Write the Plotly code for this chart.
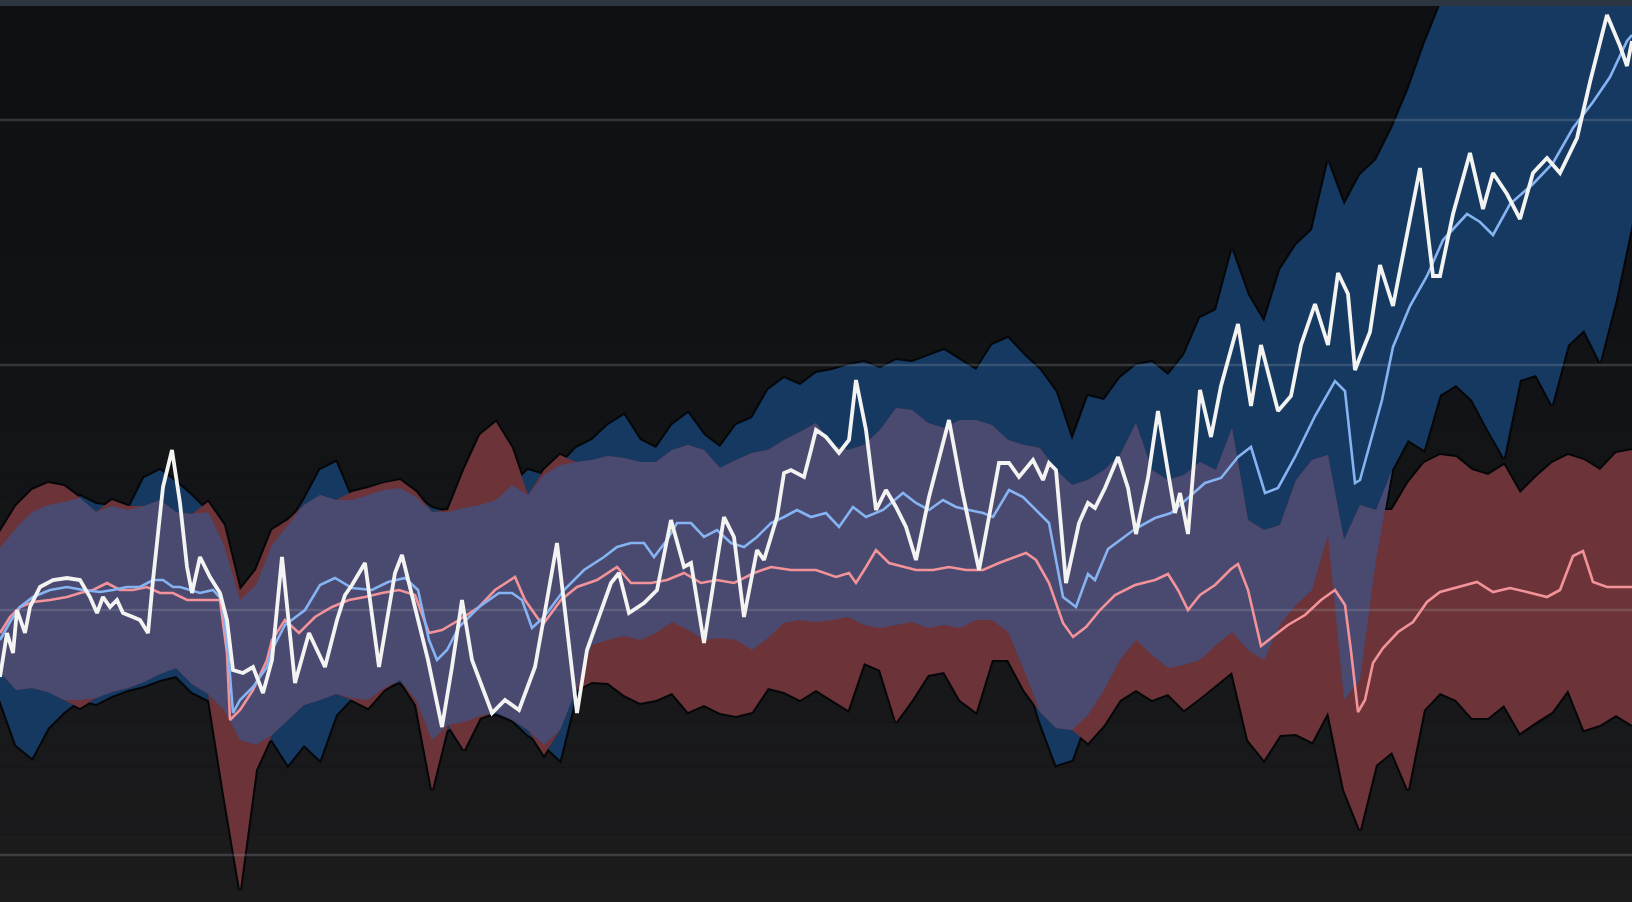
import numpy as np
import plotly.graph_objects as go

# ---------------- data (value units: 245 per gridline step) ----------------
band_x = list(range(0, 1633, 16))

red_hi = [323,349,365,372,369,357,343,355,349,349,
          355,343,341,353,330,265,285,325,335,350,
          360,355,363,367,372,375,363,343,345,385,
          420,433,407,360,385,400,393,395,399,397,
          393,393,405,410,405,387,395,402,405,415,
          423,432,410,405,410,425,447,445,432,427,
          435,435,430,415,410,407,385,370,375,385,
          400,432,385,375,380,393,385,427,335,325,
          330,375,395,400,315,350,345,345,372,392,
          400,398,385,380,390,362,378,392,400,395,
          385,402,405]
blue_hi = [307,327,343,350,353,359,351,349,345,377,
           385,373,359,343,310,255,270,310,330,355,
           385,393,355,360,365,367,358,347,343,347,
           350,355,370,385,380,390,407,415,430,440,
           415,407,430,442,420,408,430,437,465,477,
           470,482,485,490,493,487,495,493,499,505,
           495,485,510,517,500,485,463,415,459,455,
           477,490,493,480,500,537,545,605,560,533,
           585,610,625,693,650,680,695,727,765,810,
           850,895,895,895,895,895,895,895,895,895,
           895,895,895]
red_lo = [183,165,167,163,155,147,157,163,167,173,
          181,187,171,161,60,-35,85,120,135,150,
          155,161,155,147,165,175,150,65,130,105,
          137,143,135,125,100,125,165,173,172,160,
          152,155,162,143,150,142,139,143,167,163,
          155,165,155,145,192,185,133,155,180,183,
          155,143,195,195,165,143,127,125,112,130,
          155,165,155,161,145,157,170,183,115,95,
          120,121,113,143,65,25,90,103,65,145,
          162,155,137,137,150,122,133,143,165,125,
          130,140,130]
blue_lo = [155,110,97,127,143,155,151,159,165,169,
           175,179,163,155,145,115,110,115,90,110,
           95,140,157,155,167,173,155,115,125,133,
           139,141,135,120,110,95,160,210,215,219,
           215,222,233,225,215,217,215,205,217,232,
           235,233,235,238,230,227,230,233,227,230,
           227,235,235,223,185,133,90,95,140,165,
           195,215,200,187,190,195,210,223,205,195,
           230,250,265,320,155,175,295,385,415,405,
           460,470,455,425,397,475,480,450,510,525,
           493,555,631]

white_x = [0,7,13,17,25,30,40,53,67,80,90,97,103,110,117,123,133,140,148,153,
           163,172,180,187,192,200,210,220,227,233,243,253,263,272,282,295,309,325,337,345,
           352,365,379,395,402,415,428,442,452,462,472,492,505,519,535,544,557,577,587,611,
           619,629,644,657,671,684,691,704,724,734,744,757,764,777,784,791,804,811,816,826,
           839,849,856,866,876,886,896,906,916,929,949,962,979,989,999,1009,1019,1033,1043,1049,
           1056,1066,1079,1088,1095,1105,1118,1128,1136,1148,1158,1168,1175,1180,1188,1200,1211,1221,1238,1251,
           1261,1278,1291,1301,1315,1328,1338,1348,1355,1360,1370,1380,1393,1420,1433,1440,1453,1470,1483,1493,
           1507,1520,1533,1547,1560,1577,1590,1607,1620,1627,1632]
white_y = [178,222,202,245,222,248,268,275,277,275,258,242,258,248,255,242,238,235,222,275,
           368,405,352,288,262,298,278,262,235,185,182,188,162,195,298,172,222,188,235,260,
           270,292,188,282,300,248,195,128,188,255,195,142,155,145,188,238,312,142,205,272,
           282,242,252,265,335,288,292,212,338,318,238,305,295,338,382,385,378,405,425,418,
           402,415,475,425,345,365,348,328,295,358,435,365,285,338,392,392,378,395,375,392,
           385,272,332,352,347,367,398,367,321,377,444,383,342,362,321,465,418,469,531,449,
           510,444,459,510,551,510,582,561,485,498,523,590,549,687,579,579,641,702,646,682,
           661,636,682,697,682,717,773,840,809,789,814]

blue_med_x = [0,10,20,33,50,67,83,100,113,127,140,153,163,173,180,190,200,213,222,228,
              233,240,253,267,272,285,305,320,335,352,372,388,405,418,429,437,447,459,479,499,
              512,522,532,544,564,584,604,617,631,644,654,667,677,691,704,717,731,744,757,771,
              784,797,811,826,839,853,866,883,903,916,929,943,956,969,983,993,1009,1023,1036,1049,
              1063,1076,1088,1095,1108,1121,1135,1155,1171,1188,1205,1221,1238,1251,1265,1278,1295,1315,1335,1345,
              1355,1360,1370,1382,1393,1410,1427,1443,1467,1480,1493,1510,1533,1553,1573,1593,1610,1627,1632]
blue_med_y = [215,233,248,258,265,268,265,263,265,268,268,275,275,268,268,265,262,265,255,205,
              142,155,168,188,205,230,245,270,277,267,265,273,277,265,215,195,205,228,248,262,
              262,255,227,238,265,285,298,308,312,312,298,315,332,332,318,325,312,308,318,332,
              338,345,338,342,328,348,338,345,362,352,345,355,348,345,342,338,365,358,345,332,
              258,248,281,275,306,316,326,337,342,357,372,377,398,408,362,367,398,439,474,464,
              372,375,411,455,508,549,579,615,641,633,620,651,671,692,727,753,778,814,820]

red_med_x = [0,10,20,33,50,67,80,93,107,120,133,147,160,173,187,200,213,220,227,230,
             240,253,267,272,285,299,315,332,349,365,382,399,415,429,442,459,479,495,515,525,
             539,544,561,577,597,617,631,651,667,684,701,717,734,754,771,791,816,836,849,856,
             866,876,889,903,916,933,949,966,983,999,1016,1026,1036,1049,1063,1073,1086,1100,1115,1135,
             1155,1168,1178,1188,1200,1215,1231,1238,1248,1261,1275,1288,1305,1321,1335,1345,1351,1358,1365,1373,
             1383,1398,1413,1427,1440,1460,1477,1493,1510,1527,1547,1560,1573,1583,1593,1607,1627,1632]
red_med_y = [222,238,248,253,255,258,262,265,272,265,265,268,262,262,255,255,255,255,202,135,
             145,165,195,215,235,222,238,248,255,258,262,265,260,222,225,235,248,265,278,255,
             235,232,255,268,275,288,272,272,275,282,272,275,272,282,288,285,285,278,282,272,
             288,305,292,288,285,285,288,285,285,292,298,302,295,272,232,218,228,245,260,270,
             275,281,265,245,260,270,286,291,265,209,220,230,240,255,265,250,204,143,155,192,
             207,223,233,253,263,268,273,263,267,263,258,265,299,304,273,268,268,268]

grid_vals = [0, 245, 490, 735]

# ---------------- styling ----------------
BLUE_FILL = "#163962"
RED_FILL = "#6c3438"
PURPLE_FILL = "#4a4970"
EDGE = "#050608"
WHITE = "#f3f3f1"
BLUE_LINE = "#86b4f2"
RED_LINE = "#f2939a"

X_RANGE = [0, 1632]
Y_RANGE = [-47, 849]

ov_hi = np.minimum(blue_hi, red_hi)
ov_lo = np.maximum(blue_lo, red_lo)
ov_hi = np.maximum(ov_hi, ov_lo)

fig = go.Figure()

# dark halo along band edges (visible only against background)
for arr in (blue_hi, blue_lo, red_hi, red_lo):
    fig.add_trace(go.Scatter(x=band_x, y=arr, mode="lines",
                             line=dict(color=EDGE, width=4), hoverinfo="skip"))

def band(lo, hi, color):
    fig.add_trace(go.Scatter(x=band_x, y=list(lo), mode="lines",
                             line=dict(width=0, color=color), hoverinfo="skip"))
    fig.add_trace(go.Scatter(x=band_x, y=list(hi), mode="lines", fill="tonexty",
                             fillcolor=color, line=dict(width=0, color=color),
                             hoverinfo="skip"))

band(blue_lo, blue_hi, BLUE_FILL)
band(red_lo, red_hi, RED_FILL)
band(ov_lo, ov_hi, PURPLE_FILL)

# gridlines drawn above the bands, below the lines
gx, gy = [], []
for v in grid_vals:
    gx += [X_RANGE[0], X_RANGE[1], None]
    gy += [v, v, None]
fig.add_trace(go.Scatter(x=gx, y=gy, mode="lines",
                         line=dict(color="rgba(165,170,180,0.24)", width=2.5),
                         hoverinfo="skip"))

fig.add_trace(go.Scatter(x=red_med_x, y=red_med_y, mode="lines",
                         line=dict(color=RED_LINE, width=2.6), hoverinfo="skip"))
fig.add_trace(go.Scatter(x=blue_med_x, y=blue_med_y, mode="lines",
                         line=dict(color=BLUE_LINE, width=2.6), hoverinfo="skip"))
fig.add_trace(go.Scatter(x=white_x, y=white_y, mode="lines",
                         line=dict(color=WHITE, width=3.8), hoverinfo="skip"))

# background vertical gradient
shapes = []
n = 40
top = np.array([14, 16, 19])
bot = np.array([28, 28, 29])
for i in range(n):
    t = (i + 0.5) / n
    c = top + (bot - top) * t ** 1.6
    shapes.append(dict(type="rect", xref="paper", yref="paper",
                       x0=0, x1=1, y0=1 - (i + 1) / n, y1=1 - i / n,
                       fillcolor="rgb(%d,%d,%d)" % tuple(c.round().astype(int)),
                       line=dict(width=0), layer="below"))

fig.update_layout(
    width=1632, height=902, autosize=False,
    margin=dict(l=0, r=0, t=6, b=0),
    paper_bgcolor="#2b3640",
    plot_bgcolor="#101215",
    showlegend=False,
    shapes=shapes,
    xaxis=dict(range=X_RANGE, visible=False, showgrid=False, zeroline=False, fixedrange=True),
    yaxis=dict(range=Y_RANGE, visible=False, showgrid=False, zeroline=False, fixedrange=True),
)

fig.write_html(
    "out.html",
    config={"displayModeBar": False, "staticPlot": True},
    post_script="document.body.style.margin='0';document.body.style.overflow='hidden';"
                "document.body.style.background='#2b3640';",
)
